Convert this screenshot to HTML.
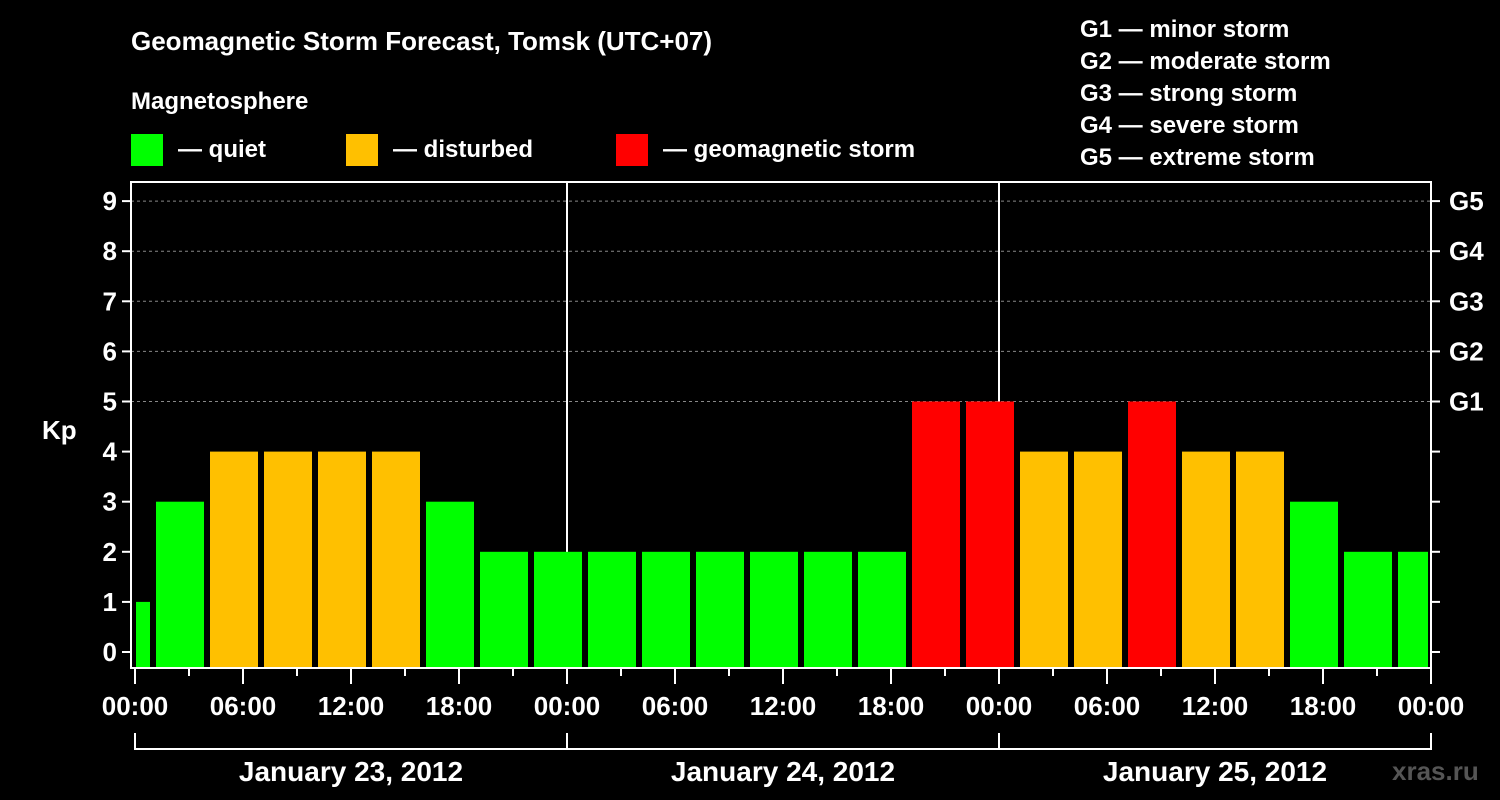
<!DOCTYPE html>
<html><head><meta charset="utf-8"><style>
html,body{margin:0;background:#000;}
svg{display:block;font-family:"Liberation Sans",Arial,sans-serif;font-weight:bold;}
</style></head><body>
<svg id="chart" width="1500" height="800" viewBox="0 0 1500 800">
<rect width="1500" height="800" fill="#000"/>
<text x="131" y="50" fill="#fff" font-size="26">Geomagnetic Storm Forecast, Tomsk (UTC+07)</text>
<text x="131" y="109" fill="#fff" font-size="24">Magnetosphere</text>
<g>
<rect x="131" y="134" width="32" height="32" fill="#00ff00"/>
<text x="178" y="157" fill="#fff" font-size="24">— quiet</text>
<rect x="346" y="134" width="32" height="32" fill="#ffc000"/>
<text x="393" y="157" fill="#fff" font-size="24">— disturbed</text>
<rect x="616" y="134" width="32" height="32" fill="#ff0000"/>
<text x="663" y="157" fill="#fff" font-size="24">— geomagnetic storm</text>
</g>
<g fill="#fff" font-size="24">
<text x="1080" y="37">G1 — minor storm</text>
<text x="1080" y="69">G2 — moderate storm</text>
<text x="1080" y="101">G3 — strong storm</text>
<text x="1080" y="133">G4 — severe storm</text>
<text x="1080" y="165">G5 — extreme storm</text>
</g>
<text x="42" y="439" fill="#fff" font-size="26">Kp</text>
<g id="grid"></g><g id="bars"></g><g id="axes"></g>
<text x="1392" y="780" fill="#555" font-size="26">xras.ru</text>
</svg>
<script>
const kpValues=[1,3,4,4,4,4,3,2,2,2,2,2,2,2,2,5,5,4,4,5,4,4,3,2,2];
const yTicks=[0,1,2,3,4,5,6,7,8,9];
const gLabels=["G1","G2","G3","G4","G5"];
const xTickLabels=["00:00","06:00","12:00","18:00","00:00","06:00","12:00","18:00","00:00","06:00","12:00","18:00","00:00"];
const dayLabels=["January 23, 2012","January 24, 2012","January 25, 2012"];
const NS="http://www.w3.org/2000/svg";
const X0=135,PXH=18,L=131,R=1431,T=182,B=668;
const x=h=>X0+h*PXH;
const y=v=>652-v*50.1;
function mk(p,tag,a){const e=document.createElementNS(NS,tag);for(const k in a)e.setAttribute(k,a[k]);p.appendChild(e);return e;}
const grid=document.getElementById('grid'),bars=document.getElementById('bars'),axes=document.getElementById('axes');
[5,6,7,8,9].forEach(v=>{const l=mk(grid,'line',{x1:L,x2:R,y1:y(v),y2:y(v),stroke:'#888','stroke-dasharray':'3,3','stroke-width':1});

});
[24,48].forEach(h=>{const l=mk(grid,'line',{x1:x(h),x2:x(h),y1:T,y2:B,stroke:'#fff','stroke-width':2});

});
kpValues.forEach((v,i)=>{
 const s=-2+i*3, e=s+3;
 const x1=Math.max(x(s)+3,x(0)+1), x2=Math.min(x(e)-3,x(72)-3);
 const c=v>=5?'#ff0000':(v>=4?'#ffc000':'#00ff00');
 const r=mk(bars,'rect',{x:x1,y:y(v),width:x2-x1,height:B-1-y(v),fill:c});
 
 
});
const fr=mk(axes,'rect',{x:L,y:T,width:R-L,height:B-T,fill:'none',stroke:'#fff','stroke-width':2});


yTicks.forEach(v=>{
 mk(axes,'line',{x1:L-9,x2:L,y1:y(v),y2:y(v),stroke:'#fff','stroke-width':2});
 mk(axes,'line',{x1:R,x2:R+9,y1:y(v),y2:y(v),stroke:'#fff','stroke-width':2});
 const t=mk(axes,'text',{x:L-14,y:y(v)+9,fill:'#fff','font-size':26,'text-anchor':'end'});
 t.textContent=v;
 
 
});
gLabels.forEach((g,i)=>{
 const t=mk(axes,'text',{x:R+18,y:y(5+i)+9,fill:'#fff','font-size':26});
 t.textContent=g;
 
 
});
for(let h=0;h<=72;h+=3){
 const maj=h%6===0;
 mk(axes,'line',{x1:x(h),x2:x(h),y1:B,y2:B+(maj?16:8),stroke:'#fff','stroke-width':2});
}
xTickLabels.forEach((s,i)=>{
 const t=mk(axes,'text',{x:x(i*6),y:715,fill:'#fff','font-size':26,'text-anchor':'middle'});
 t.textContent=s;
 
 
});
const br=mk(axes,'path',{d:`M${x(0)},733V749H${x(72)}V733M${x(24)},733V749M${x(48)},733V749`,stroke:'#fff','stroke-width':2,fill:'none'});


dayLabels.forEach((s,i)=>{
 const t=mk(axes,'text',{x:x(i*24+12),y:781,fill:'#fff','font-size':28,'text-anchor':'middle'});
 t.textContent=s;
 
 
});
</script>
</body></html>
